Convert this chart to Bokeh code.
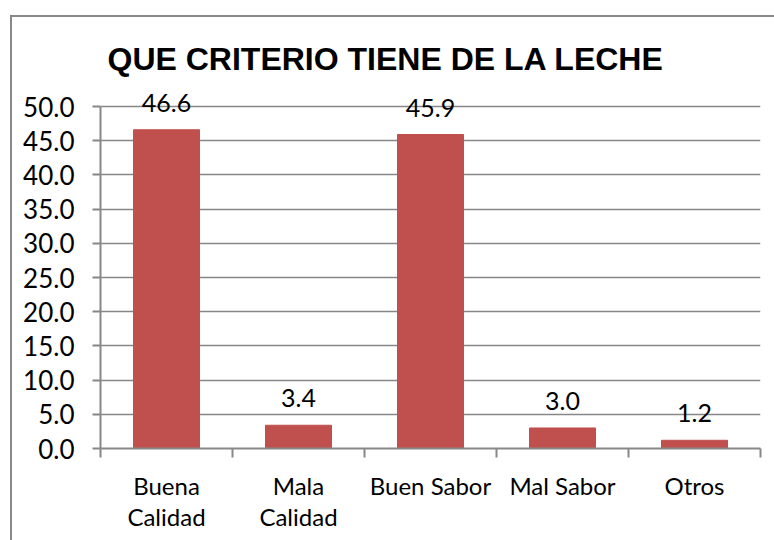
from bokeh.plotting import figure
from bokeh.models import FixedTicker, Range1d, NumeralTickFormatter
from bokeh.embed import file_html
from bokeh.resources import INLINE
from bokeh.core.properties import value

# ---- data ----
categories = ["Buena Calidad", "Mala Calidad", "Buen Sabor", "Mal Sabor", "Otros"]
tick_labels = ["Buena\nCalidad", "Mala\nCalidad", "Buen Sabor", "Mal Sabor", "Otros"]
values = [46.6, 3.4, 45.9, 3.0, 1.2]
y_ticks = [0, 5, 10, 15, 20, 25, 30, 35, 40, 45, 50]
y_max = 50
title_text = "QUE CRITERIO TIENE DE LA LECHE"

positions = [i + 0.5 for i in range(len(categories))]
boundaries = list(range(len(categories) + 1))
value_labels = [f"{v:.1f}" for v in values]

FONT = "Lato"
GRAY = "#878787"
BAR = "#C0504D"

# frame: 50 at y=106, 0 at y=448; frame top at 86 leaves room for labels
px_per_unit = (448 - 106) / y_max
y_end = y_max + (106 - 86) / px_per_unit

p = figure(width=774, height=540, output_backend="svg", toolbar_location=None,
           x_range=Range1d(0, len(categories)), y_range=Range1d(0, y_end),
           min_border_left=100, min_border_right=14, min_border_top=86, min_border_bottom=92)
p.outline_line_color = None
p.background_fill_color = "white"
p.border_fill_alpha = 0
p.styles = {
    "background": ("linear-gradient(#898989,#898989) 10px 15px / 2px 100% no-repeat, "
                   "linear-gradient(#898989,#898989) 10px 15px / 100% 2px no-repeat, white")
}

p.title.text = title_text
p.title.align = "left"
p.title.offset = 7
p.title.standoff = 19
p.title.text_font = "Liberation Sans"
p.title.text_font_style = "bold"
p.title.text_font_size = "32px"
p.title.text_color = "black"

p.vbar(x=positions, top=values, width=0.5, fill_color=BAR, line_color=BAR)

p.text(x=positions, y=values, text=value_labels, y_offset=-27,
       text_align="center", text_baseline="alphabetic",
       text_font=value(FONT), text_font_size="25px", text_color="black")

# x axis
xa = p.xaxis[0]
xa.ticker = FixedTicker(ticks=positions, minor_ticks=boundaries)
xa.major_label_overrides = {pos: lab for pos, lab in zip(positions, tick_labels)}
xa.major_tick_out = 0
xa.major_tick_in = 0
xa.minor_tick_out = 9
xa.minor_tick_in = 0
xa.minor_tick_line_color = GRAY
xa.minor_tick_line_width = 2
xa.axis_line_color = GRAY
xa.axis_line_width = 2
xa.major_label_text_font = FONT
xa.major_label_text_font_size = "24px"
xa.major_label_text_line_height = 1.1
xa.major_label_text_color = "black"
xa.major_label_standoff = 13

# y axis
ya = p.yaxis[0]
ya.bounds = (0, y_max)
ya.ticker = FixedTicker(ticks=y_ticks)
ya.formatter = NumeralTickFormatter(format="0.0")
ya.major_tick_out = 8
ya.major_tick_in = 0
ya.major_tick_line_color = GRAY
ya.major_tick_line_width = 2
ya.minor_tick_out = 0
ya.minor_tick_in = 0
ya.axis_line_color = GRAY
ya.axis_line_width = 2
ya.major_label_text_font = FONT
ya.major_label_text_font_size = "26px"
ya.major_label_text_color = "black"
ya.major_label_standoff = 18

p.xgrid.grid_line_color = None
p.ygrid.ticker = FixedTicker(ticks=y_ticks)
p.ygrid.grid_line_color = GRAY
p.ygrid.grid_line_width = 1.5

open("out.html", "w").write(file_html(p, INLINE))
